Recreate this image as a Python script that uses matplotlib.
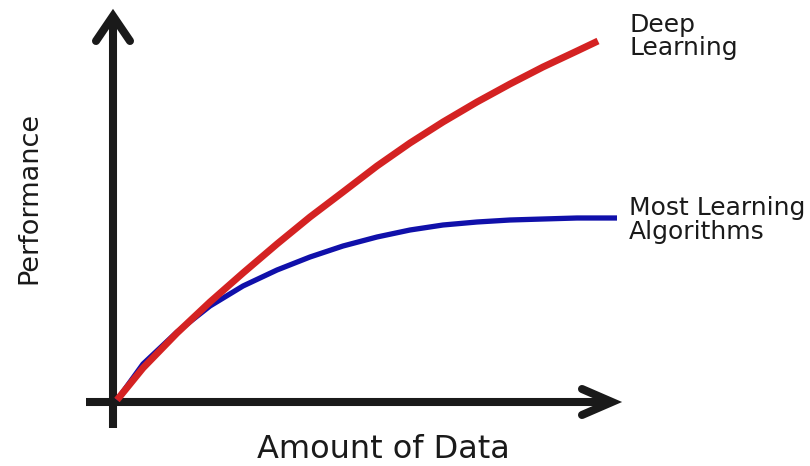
import matplotlib
matplotlib.use('Agg')
import matplotlib.pyplot as plt

# amount of data (x) vs performance (y)
deep_x = [4, 30, 64, 97, 130, 164, 197, 230, 264, 297, 330, 364, 397, 430, 464, 485]
deep_y = [2, 34, 69, 100, 129, 158, 185, 210, 236, 259, 280, 300, 318, 335, 351, 361]
most_x = [4, 30, 64, 97, 130, 164, 197, 230, 264, 297, 330, 364, 397, 430, 464, 504]
most_y = [2, 38, 70, 96, 116, 132, 145, 156, 165, 172, 177, 180, 182, 183, 184, 184]

red = '#d42222'
blue = '#1010aa'
ink = '#1a1a1a'

fig = plt.figure(figsize=(8.1, 4.66), dpi=100)
fig.set_facecolor('white')
ax = fig.add_axes([0, 0, 1, 1])
ax.set_xlim(-113, 697)
ax.set_ylim(-64, 402)
ax.axis('off')

# axes drawn as arrows
ax.plot([0, 0], [-26, 386], color=ink, lw=5.8, solid_capstyle='butt')
ax.plot([-17, 0, 17], [361, 386, 361], color=ink, lw=5.8,
        solid_capstyle='round', solid_joinstyle='miter')
ax.plot([-27, 499], [0, 0], color=ink, lw=5.8, solid_capstyle='butt')
ax.plot([469, 499, 469], [13, 0, -13], color=ink, lw=5.8,
        solid_capstyle='round', solid_joinstyle='miter')

# curves
ax.plot(most_x, most_y, color=blue, lw=3.8, solid_capstyle='butt', solid_joinstyle='round')
ax.plot(deep_x, deep_y, color=red, lw=5.0, solid_capstyle='butt', solid_joinstyle='round')

font = 'DejaVu Sans'
# va='baseline' on multi-line text anchors the last line
ax.text(516, 347, 'Deep\nLearning', fontsize=18, family=font, color=ink,
        ha='left', va='baseline', linespacing=0.95)
ax.text(516, 163, 'Most Learning\nAlgorithms', fontsize=18, family=font, color=ink,
        ha='left', va='baseline', linespacing=1.0)
ax.text(270, -56, 'Amount of Data', fontsize=23, family=font, color=ink,
        ha='center', va='baseline')
ax.text(-84, 204, 'Performance', fontsize=19.5, family=font, color=ink,
        ha='center', va='center', rotation=90)

fig.savefig('out.png', dpi=100, facecolor=fig.get_facecolor())
